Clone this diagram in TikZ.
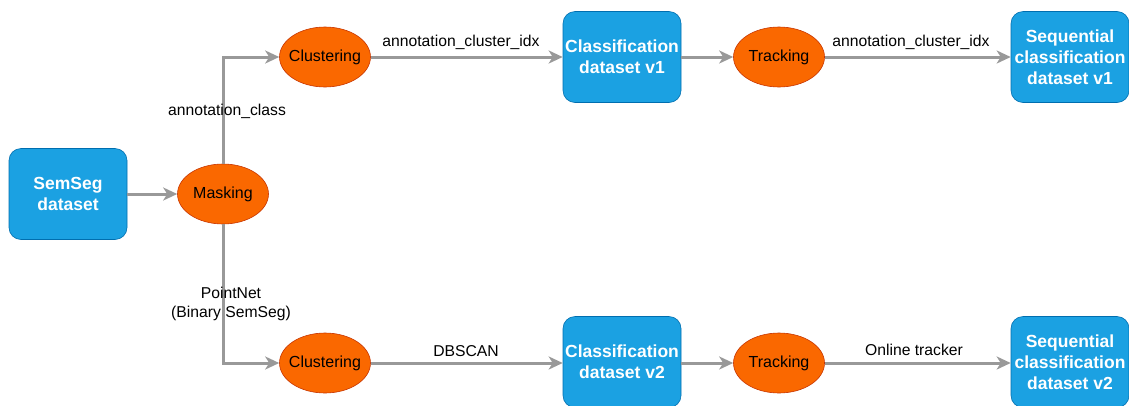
\documentclass[tikz,border=0pt]{standalone}
\usepackage{fontspec}
\setmainfont{Liberation Sans}
\usetikzlibrary{arrows.meta,shapes.geometric}
\definecolor{boxfill}{HTML}{1BA1E2}
\definecolor{boxline}{HTML}{006EAF}
\definecolor{ellfill}{HTML}{FA6800}
\definecolor{ellline}{HTML}{C73500}
\definecolor{edge}{HTML}{999999}
\tikzset{
  x=1pt, y=-1pt,
  dbox/.style={draw=boxline, fill=boxfill, rounded corners=12pt, minimum width=118pt, minimum height=91pt, inner sep=0pt, align=center, text=white, font=\fontsize{17.5}{21}\selectfont\bfseries, line width=0.6pt},
  proc/.style={ellipse, draw=ellline, fill=ellfill, minimum width=91pt, minimum height=60pt, inner xsep=-4pt, inner ysep=0pt, text=black, font=\fontsize{16}{19}\selectfont, line width=0.6pt},
  conn/.style={draw=edge, line width=3pt, -{Stealth[length=14pt,width=13pt,inset=4pt]}},
  lbl/.style={font=\fontsize{15.7}{18.5}\selectfont, text=black, align=center, inner sep=1pt},
}
\begin{document}
\begin{tikzpicture}
\useasboundingbox (0,0) rectangle (1129,405);
\node[dbox] (semseg) at (68,194) {SemSeg\\dataset};
\node[proc] (mask) at (223,194) {Masking};
\node[proc] (clu1) at (325,57) {Clustering};
\node[proc] (clu2) at (325,363) {Clustering};
\node[dbox] (cls1) at (622,57) {Classification\\dataset v1};
\node[dbox] (cls2) at (622,362) {Classification\\dataset v2};
\node[proc] (trk1) at (779,57) {Tracking};
\node[proc] (trk2) at (779,363) {Tracking};
\node[dbox] (seq1) at (1070,57) {Sequential\\classification\\dataset v1};
\node[dbox] (seq2) at (1070,362) {Sequential\\classification\\dataset v2};

\draw[conn] (semseg) -- (mask);
\draw[conn] (mask.north) |- (clu1.west);
\draw[conn] (mask.south) |- (clu2.west);
\draw[conn] (clu1) -- (cls1.west |- clu1);
\draw[conn] (clu2) -- (cls2.west |- clu2);
\draw[conn] (cls1.east |- trk1) -- (trk1);
\draw[conn] (cls2.east |- trk2) -- (trk2);
\draw[conn] (trk1) -- (seq1.west |- trk1);
\draw[conn] (trk2) -- (seq2.west |- trk2);

\node[lbl] (l1) at (227,111) {annotation\_class};
\node[lbl] (l2) at (231,304) {PointNet\\(Binary SemSeg)};
\node[lbl] (l3) at (461,42) {annotation\_cluster\_idx};
\node[lbl] (l4) at (911,42) {annotation\_cluster\_idx};
\node[lbl] (l5) at (466,351) {DBSCAN};
\node[lbl] (l6) at (914,350) {Online tracker};
\end{tikzpicture}
\end{document}
